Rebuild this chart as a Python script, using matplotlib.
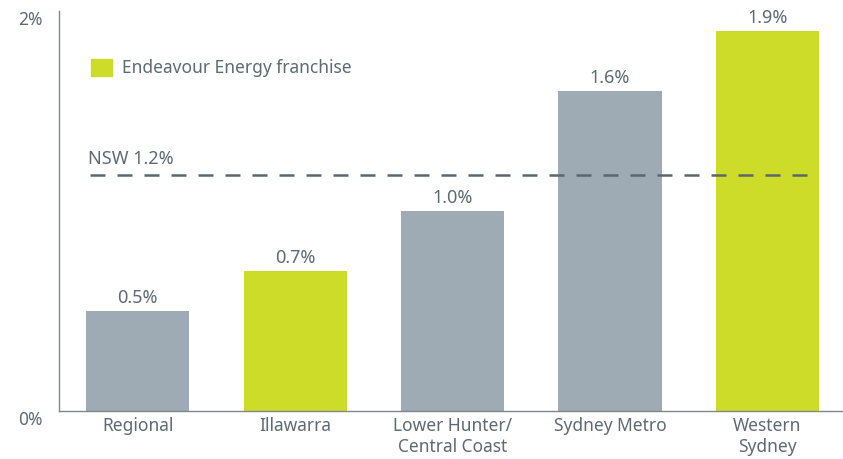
import matplotlib.pyplot as plt
from matplotlib.patches import Patch

regions = ["Regional", "Illawarra", "Lower Hunter/\nCentral Coast", "Sydney Metro", "Western\nSydney"]
growth = [0.5, 0.7, 1.0, 1.6, 1.9]
endeavour = [False, True, False, False, True]
nsw_growth = 1.18
nsw_label = 1.2

grey = "#9eabb5"
green = "#cddc29"
text_col = "#5d6a72"

plt.rcParams["font.family"] = ["Noto Sans", "DejaVu Sans"]

fig = plt.figure(figsize=(8.43, 4.59), dpi=100)
ax = fig.add_axes([59 / 843, 48 / 459, 784 / 843, 400 / 459])

x = list(range(len(regions)))
colors = [green if e else grey for e in endeavour]
ax.bar(x, growth, width=0.655, color=colors)

for i, v in enumerate(growth):
    ax.text(i, v + 0.022, f"{v:.1f}%", ha="center", va="bottom", fontsize=13, color=text_col)

# NSW average line
ax.plot([-0.3, 4.33], [nsw_growth, nsw_growth], ls=(0, (6, 4.8)), lw=1.8, color="#5b666e")
ax.text(-0.315, nsw_growth + 0.035, f"NSW {nsw_label:.1f}%", ha="left", va="bottom", fontsize=13, color=text_col)

ax.set_xlim(-0.5, 4.48)
ax.set_ylim(0, 2.0)
ax.set_yticks([0, 2])
ax.set_yticklabels(["0%", "2%"], va="top")
ax.set_xticks(x)
ax.set_xticklabels(regions, fontsize=12.5, color=text_col, linespacing=1.25)
ax.tick_params(axis="y", length=0, pad=12, labelsize=12.5, labelcolor=text_col)
ax.tick_params(axis="x", length=0, pad=4)

for s in ["top", "right"]:
    ax.spines[s].set_visible(False)
for s in ["left", "bottom"]:
    ax.spines[s].set_color("#7d878e")
    ax.spines[s].set_linewidth(1.0)

leg = ax.legend(handles=[Patch(color=green, label="Endeavour Energy franchise")],
                loc="upper left", bbox_to_anchor=(0.021, 0.92), frameon=False,
                fontsize=12.5, handlelength=1.2, handleheight=1.2, handletextpad=0.6)
for t in leg.get_texts():
    t.set_color(text_col)

fig.savefig("out.png", dpi=100)
